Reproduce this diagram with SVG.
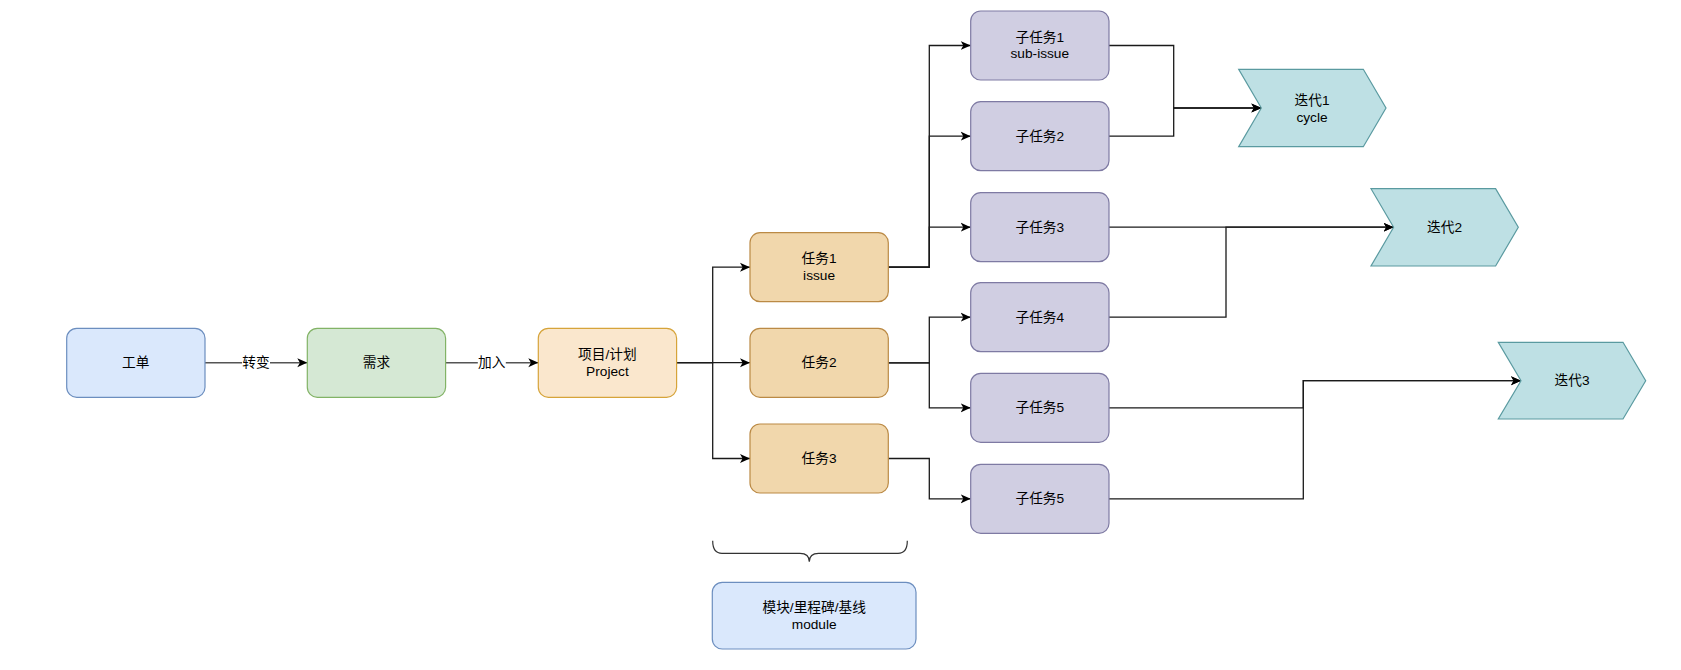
<svg xmlns="http://www.w3.org/2000/svg" width="1681" height="670" viewBox="0 0 1681 670">
<style>
text{font-family:"Liberation Sans","Noto Sans CJK SC",Arial,sans-serif;font-size:13.7px;fill:#000;text-anchor:middle;dominant-baseline:central}
.n rect,.n polygon{stroke-width:1.2}
.blue{fill:#dae8fc;stroke:#6c8ebf}
.green{fill:#d5e8d4;stroke:#82b366}
.orange{fill:#fae7cd;stroke:#d6a43a}
.task{fill:#f1d7ac;stroke:#bb8a45}
.sub{fill:#d0cee2;stroke:#7e7aa3}
.iter{fill:#bee0e4;stroke:#5a9aa0}
.c path{fill:none;stroke:#1a1a1a;stroke-width:1.3}
.c .g{stroke:#555;stroke-width:1.6}
</style>
<defs>
<marker id="arr" viewBox="0 0 10 10" refX="10" refY="5" markerWidth="10" markerHeight="10" markerUnits="userSpaceOnUse" orient="auto">
<path d="M0,0.5 L10,5 L0,9.5 L2.6,5 Z" fill="#000"/>
</marker>
</defs>
<g id="connectors" class="c">
<path class="g" d="M205,362.7 H307.3" marker-end="url(#arr)"/>
<path class="g" d="M445.3,362.7 H538.3" marker-end="url(#arr)"/>
<path d="M676,362.7 H712.7 V267.2 H750" marker-end="url(#arr)"/>
<path d="M676,362.7 H750" marker-end="url(#arr)"/>
<path d="M676,362.7 H712.7 V458.5 H750" marker-end="url(#arr)"/>
<path d="M888.3,267.2 H929.3 V45.5 H970.7" marker-end="url(#arr)"/>
<path d="M888.3,267.2 H929.3 V136.2 H970.7" marker-end="url(#arr)"/>
<path d="M888.3,267.2 H929.3 V227.2 H970.7" marker-end="url(#arr)"/>
<path d="M888.3,362.8 H929.3 V317.2 H970.7" marker-end="url(#arr)"/>
<path d="M888.3,362.8 H929.3 V407.8 H970.7" marker-end="url(#arr)"/>
<path d="M888.3,458.5 H929.3 V498.8 H970.7" marker-end="url(#arr)"/>
<path d="M1109,45.5 H1173.7 V108 H1261.3" marker-end="url(#arr)"/>
<path d="M1109,136.2 H1173.7 V108 H1261.3" marker-end="url(#arr)"/>
<path d="M1109,227.2 H1393.6" marker-end="url(#arr)"/>
<path d="M1109,317.2 H1226 V227.2 H1393.6" marker-end="url(#arr)"/>
<path d="M1109,407.8 H1303.3 V380.7 H1521" marker-end="url(#arr)"/>
<path d="M1109,498.8 H1303.3 V380.7 H1521" marker-end="url(#arr)"/>
<rect x="242" y="355" width="28" height="15" fill="#fff"/>
<text x="256" y="362.7">转变</text>
<rect x="477.8" y="355" width="28" height="15" fill="#fff"/>
<text x="491.8" y="362.7">加入</text>
</g>
<g id="node-gongdan" class="n"><rect class="blue" x="66.7" y="328.3" width="138.3" height="69" rx="10"/><text x="135.8" y="362.8">工单</text></g>
<g id="node-xuqiu" class="n"><rect class="green" x="307.3" y="328.3" width="138.3" height="69" rx="10"/><text x="376.4" y="362.8">需求</text></g>
<g id="node-project" class="n"><rect class="orange" x="538.3" y="328.3" width="138.3" height="69" rx="10"/><text x="607.4" y="354.5">项目/计划</text><text x="607.4" y="371.2">Project</text></g>
<g id="node-task1" class="n"><rect class="task" x="750" y="232.7" width="138.3" height="69" rx="10"/><text x="819.1" y="258.9">任务1</text><text x="819.1" y="275.6">issue</text></g>
<g id="node-task2" class="n"><rect class="task" x="750" y="328.3" width="138.3" height="69" rx="10"/><text x="819.1" y="362.8">任务2</text></g>
<g id="node-task3" class="n"><rect class="task" x="750" y="424" width="138.3" height="69" rx="10"/><text x="819.1" y="458.5">任务3</text></g>
<g id="node-sub1" class="n"><rect class="sub" x="970.7" y="11" width="138.3" height="69" rx="10"/><text x="1039.8" y="37.2">子任务1</text><text x="1039.8" y="53.9">sub-issue</text></g>
<g id="node-sub2" class="n"><rect class="sub" x="970.7" y="101.7" width="138.3" height="69" rx="10"/><text x="1039.8" y="136.2">子任务2</text></g>
<g id="node-sub3" class="n"><rect class="sub" x="970.7" y="192.7" width="138.3" height="69" rx="10"/><text x="1039.8" y="227.2">子任务3</text></g>
<g id="node-sub4" class="n"><rect class="sub" x="970.7" y="282.7" width="138.3" height="69" rx="10"/><text x="1039.8" y="317.2">子任务4</text></g>
<g id="node-sub5" class="n"><rect class="sub" x="970.7" y="373.3" width="138.3" height="69" rx="10"/><text x="1039.8" y="407.8">子任务5</text></g>
<g id="node-sub5b" class="n"><rect class="sub" x="970.7" y="464.3" width="138.3" height="69" rx="10"/><text x="1039.8" y="498.8">子任务5</text></g>
<g id="node-iter1" class="n"><polygon class="iter" points="1238.7,69.3 1363.3,69.3 1386,108 1363.3,146.7 1238.7,146.7 1261.3,108"/><text x="1312" y="100.5">迭代1</text><text x="1312" y="117.2">cycle</text></g>
<g id="node-iter2" class="n"><polygon class="iter" points="1371,188.7 1495.6,188.7 1518.3,227.3 1495.6,266 1371,266 1393.6,227.3"/><text x="1444.6" y="227.3">迭代2</text></g>
<g id="node-iter3" class="n"><polygon class="iter" points="1498.3,342.3 1623,342.3 1645.7,380.7 1623,419 1498.3,419 1521,380.7"/><text x="1572" y="380.7">迭代3</text></g>
<g id="brace"><path d="M712.7,540.7 Q712.7,553.3 722,553.3 H800 Q809.3,553.3 809.3,561.7 Q809.3,553.3 818.6,553.3 H898 Q907.3,553.3 907.3,540.7" fill="none" stroke="#333" stroke-width="1.2"/></g>
<g id="node-module" class="n"><rect class="blue" x="712.3" y="582.3" width="203.7" height="66.7" rx="10"/><text x="814.2" y="607.3">模块/里程碑/基线</text><text x="814.2" y="624">module</text></g>
</svg>
